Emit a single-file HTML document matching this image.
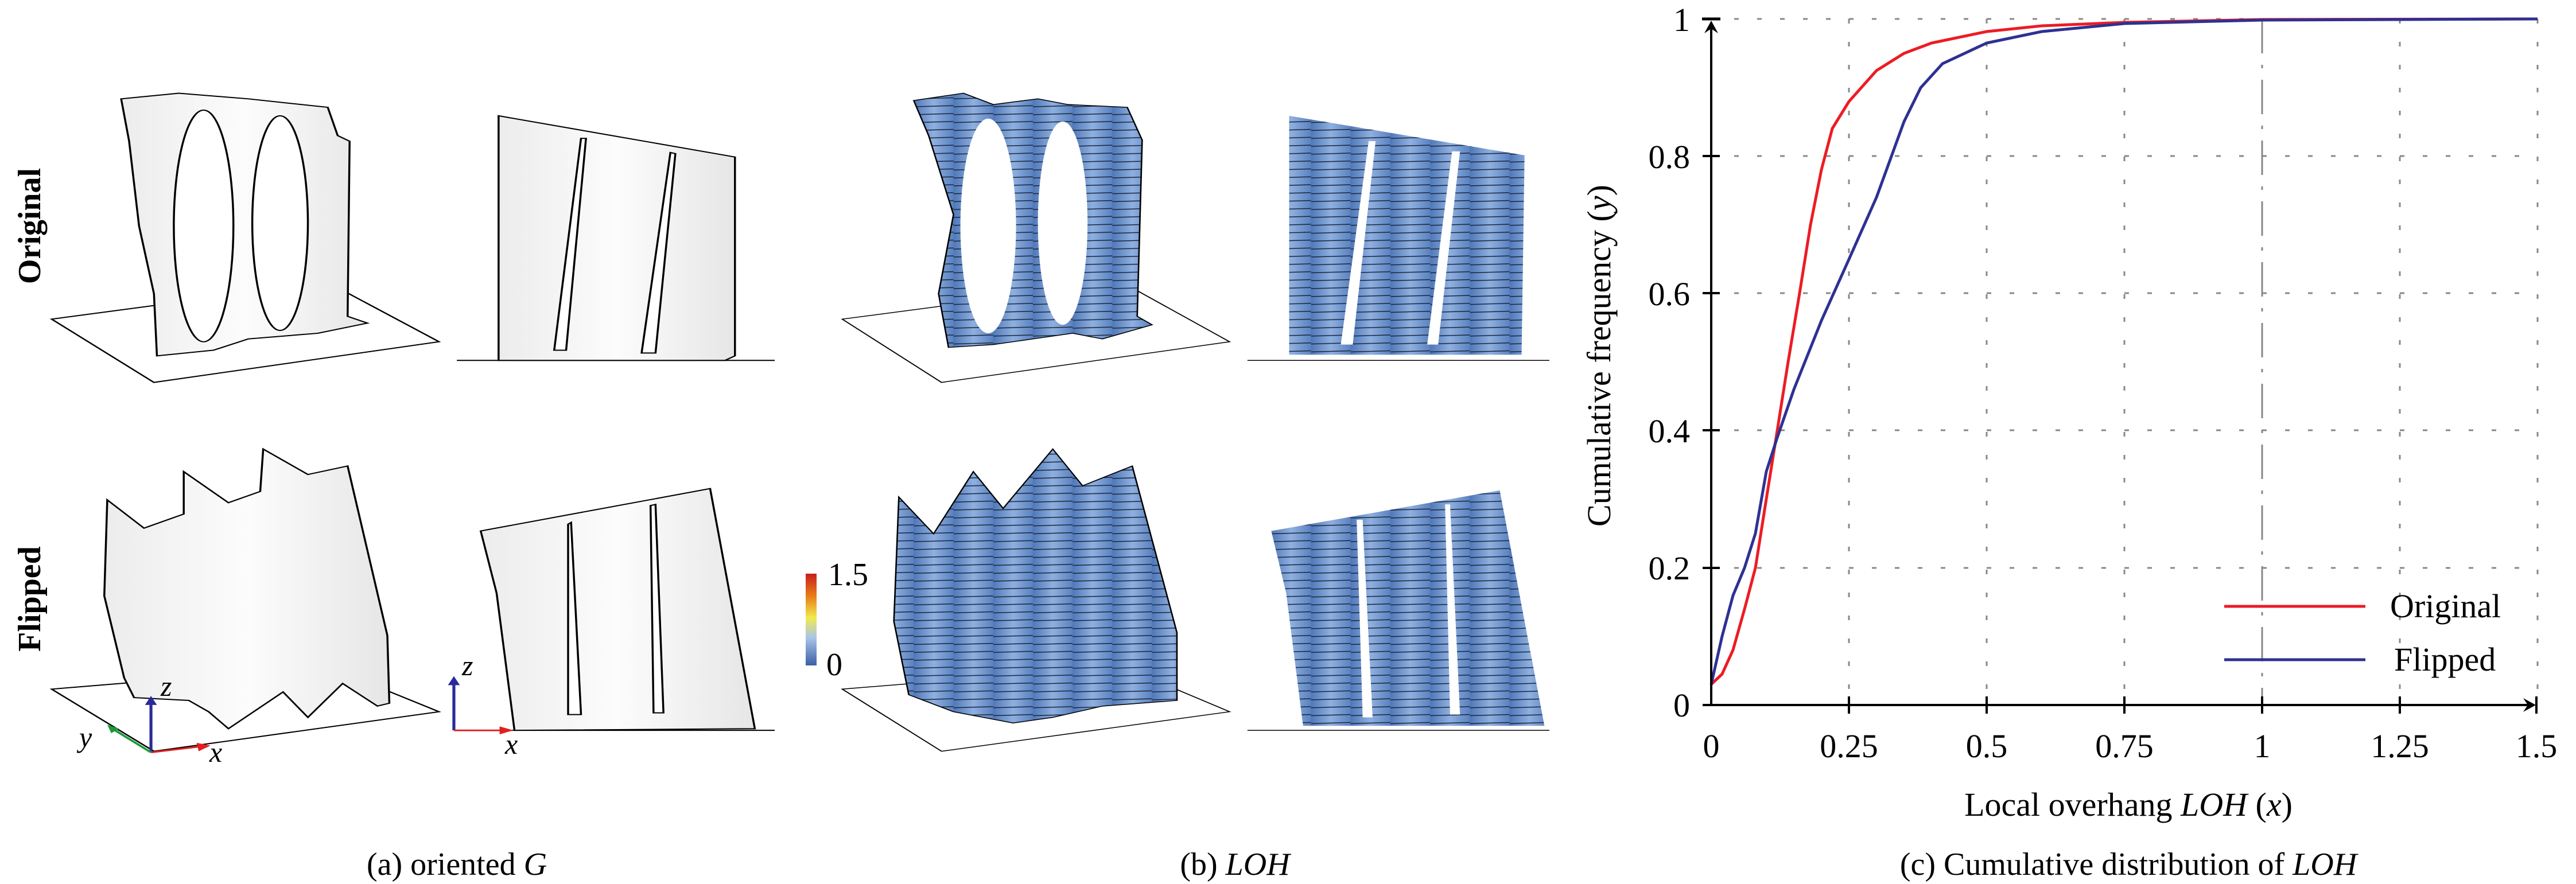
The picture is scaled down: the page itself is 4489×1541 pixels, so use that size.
<!DOCTYPE html>
<html><head><meta charset="utf-8"><style>
html,body{margin:0;padding:0;background:#fff;}
body{width:4489px;height:1541px;position:relative;overflow:hidden;font-family:"Liberation Serif",serif;}
svg{position:absolute;left:0;top:0;}
</style></head><body>
<svg width="2700" height="1541" viewBox="0 0 1560 1565" preserveAspectRatio="none">
<defs>
<linearGradient id="gw" x1="0" x2="1"><stop offset="0" stop-color="#ececec"/><stop offset="0.5" stop-color="#fcfcfc"/><stop offset="1" stop-color="#e6e6e6"/></linearGradient>
<linearGradient id="gb" x1="0" x2="1"><stop offset="0" stop-color="#4f78b8"/><stop offset="0.5" stop-color="#8fb0e0"/><stop offset="1" stop-color="#5a82c0"/></linearGradient>
<pattern id="st" width="40" height="14" patternUnits="userSpaceOnUse"><rect width="40" height="14" fill="url(#gb)"/><line x1="0" y1="7" x2="40" y2="5" stroke="#1a2236" stroke-width="1.6"/></pattern>
</defs>
<g stroke="#000" stroke-width="2" fill="none">
<polygon points="52,565 330,500 442,605 155,677"/>
<path d="M122,175 L180,165 L250,175 L330,190 L340,240 L352,250 L350,560 L370,572 L320,590 L250,600 L215,620 L158,630 L155,520 L140,400 L130,250 Z" fill="url(#gw)"/>
<ellipse cx="205" cy="400" rx="30" ry="205" fill="#fff"/>
<ellipse cx="282" cy="395" rx="28" ry="190" fill="#fff"/>
<line x1="460" y1="638" x2="780" y2="638"/>
<path d="M502,205 L740,278 L740,630 L730,638 L502,638 Z" fill="url(#gw)"/>
<path d="M590,245 L570,620 L558,620 L585,245 Z" fill="#fff"/>
<path d="M680,272 L660,625 L646,625 L675,270 Z" fill="#fff"/>
<polygon points="52,1220 330,1180 442,1260 155,1330"/>
<path d="M108,885 L145,935 L185,910 L185,835 L230,890 L262,870 L265,795 L310,840 L350,825 L390,1125 L392,1245 L380,1250 L345,1210 L310,1270 L285,1225 L230,1290 L210,1260 L190,1240 L135,1235 L125,1200 L105,1055 Z" fill="url(#gw)"/>
<line x1="460" y1="1293" x2="780" y2="1293"/>
<path d="M484,940 L715,865 L760,1290 L518,1293 L500,1050 Z" fill="url(#gw)"/>
<path d="M575,925 L585,1265 L572,1265 L572,928 Z" fill="#fff"/>
<path d="M660,893 L668,1262 L658,1262 L655,895 Z" fill="#fff"/>
<polygon points="848,565 1130,500 1238,605 948,677" stroke-width="1.5"/>
<path d="M920,178 L970,165 L1000,185 L1045,175 L1075,185 L1135,190 L1150,248 L1145,560 L1160,575 L1110,600 L1080,590 L1040,600 L1000,610 L955,615 L945,520 L960,380 L935,240 Z" fill="url(#st)" stroke-width="1.5"/>
<ellipse cx="995" cy="400" rx="28" ry="190" fill="#fff" stroke="none"/>
<ellipse cx="1070" cy="395" rx="25" ry="180" fill="#fff" stroke="none"/>
<line x1="1256" y1="638" x2="1568" y2="638" stroke-width="1.5"/>
<path d="M1298,205 L1535,275 L1532,628 L1298,628 Z" fill="url(#st)" stroke="none"/>
<path d="M1385,250 L1362,610 L1350,610 L1378,250 Z" fill="#fff" stroke="none"/>
<path d="M1470,268 L1448,610 L1437,610 L1462,268 Z" fill="#fff" stroke="none"/>
<polygon points="848,1220 1130,1180 1238,1260 948,1330" stroke-width="1.5"/>
<path d="M905,880 L940,945 L980,835 L1010,900 L1060,795 L1090,860 L1140,825 L1185,1120 L1185,1240 L1110,1250 L1060,1270 L1020,1280 L960,1260 L915,1230 L900,1100 Z" fill="url(#st)" stroke-width="1.5"/>
<line x1="1256" y1="1293" x2="1568" y2="1293" stroke-width="1.5"/>
<path d="M1280,940 L1510,868 L1555,1285 L1312,1285 L1295,1050 Z" fill="url(#st)" stroke="none"/>
<path d="M1372,920 L1382,1270 L1372,1270 L1366,920 Z" fill="#fff" stroke="none"/>
<path d="M1460,893 L1470,1265 L1460,1265 L1455,893 Z" fill="#fff" stroke="none"/>
</g>
<g stroke-width="3">
<line x1="152" y1="1332" x2="152" y2="1245" stroke="#2a2a9a"/><polygon points="146,1248 158,1248 152,1232" fill="#2a2a9a"/>
<line x1="152" y1="1332" x2="200" y2="1322" stroke="#e02020"/><polygon points="198,1315 200,1330 212,1320" fill="#e02020"/>
<line x1="152" y1="1332" x2="115" y2="1292" stroke="#1a9a3a"/><polygon points="108,1283 120,1290 112,1298" fill="#1a9a3a"/>
<line x1="457" y1="1293" x2="457" y2="1210" stroke="#2a2a9a"/><polygon points="451,1213 463,1213 457,1197" fill="#2a2a9a"/>
<line x1="457" y1="1293" x2="505" y2="1293" stroke="#e02020"/><polygon points="503,1286 503,1300 517,1293" fill="#e02020"/>
</g>
</svg>
<div style="position:absolute;left:52px;top:394px;transform:translate(-50%,-50%) rotate(-90deg);font-size:56px;font-weight:bold;white-space:nowrap;">Original</div>
<div style="position:absolute;left:52px;top:1044px;transform:translate(-50%,-50%) rotate(-90deg);font-size:56px;font-weight:bold;white-space:nowrap;">Flipped</div>
<div style="position:absolute;left:796px;top:1507px;transform:translate(-50%,-50%);font-size:56px;white-space:nowrap;">(a) oriented <i>G</i></div>
<div style="position:absolute;left:2152px;top:1507px;transform:translate(-50%,-50%);font-size:56px;white-space:nowrap;">(b) <i>LOH</i></div>
<div style="position:absolute;left:3709px;top:1507px;transform:translate(-50%,-50%);font-size:56px;white-space:nowrap;">(c) Cumulative distribution of <i>LOH</i></div>
<svg width="4489" height="1541" viewBox="0 0 4489 1541">
<defs><linearGradient id="cb" x1="0" y1="1" x2="0" y2="0"><stop offset="0" stop-color="#3b5fa8"/><stop offset="0.3" stop-color="#a8c4e8"/><stop offset="0.52" stop-color="#f2ea50"/><stop offset="0.75" stop-color="#e88018"/><stop offset="1" stop-color="#c81e1e"/></linearGradient></defs>
<rect x="1404" y="1000" width="19" height="160" fill="url(#cb)"/>
<g font-family="Liberation Serif" font-size="56">
<text x="1443" y="1020">1.5</text><text x="1440" y="1177">0</text>
</g>
<g font-family="Liberation Serif" font-style="italic" font-size="50">
<text x="280" y="1213">z</text><text x="365" y="1328">x</text><text x="138" y="1302">y</text>
<text x="805" y="1177">z</text><text x="880" y="1314">x</text>
</g>
<g stroke="#888" stroke-width="3" stroke-dasharray="8,32">
<line x1="3222" y1="33" x2="3222" y2="1229"/><line x1="3462" y1="33" x2="3462" y2="1229"/>
<line x1="3702" y1="33" x2="3702" y2="1229"/><line x1="4182" y1="33" x2="4182" y2="1229"/><line x1="4422" y1="33" x2="4422" y2="1229"/>
<line x1="2982" y1="33" x2="4422" y2="33"/><line x1="2982" y1="272" x2="4422" y2="272"/><line x1="2982" y1="511" x2="4422" y2="511"/>
<line x1="2982" y1="750" x2="4422" y2="750"/><line x1="2982" y1="990" x2="4422" y2="990"/>
</g>
<line x1="3942" y1="33" x2="3942" y2="1229" stroke="#888" stroke-width="3" stroke-dasharray="60,20,6,20"/>
<g fill="none" stroke-width="5" stroke-linejoin="round">
<polyline stroke="#ec1c24" points="2982,1193 3001,1175 3020,1133 3040,1062 3059,990 3078,870 3097,751 3116,631 3136,511 3155,392 3174,296 3193,224 3222,177 3270,123 3318,93 3366,75 3462,55 3558,45 3702,39 3942,34 4422,33"/>
<polyline stroke="#2e3192" points="2982,1193 3001,1109 3020,1038 3040,990 3059,930 3078,822 3097,763 3126,679 3174,559 3222,452 3270,344 3318,212 3347,153 3385,111 3462,75 3558,55 3702,41 3942,35 4422,33"/>
</g>
<g stroke="#000" stroke-width="4">
<line x1="2982" y1="1229" x2="2982" y2="40"/>
<line x1="2966" y1="33" x2="2998" y2="33" stroke-width="5"/>
<line x1="2967" y1="1229" x2="4415" y2="1229"/>
<line x1="4420" y1="1214" x2="4420" y2="1244"/>
<line x1="3222" y1="1214" x2="3222" y2="1244"/><line x1="3462" y1="1214" x2="3462" y2="1244"/><line x1="3702" y1="1214" x2="3702" y2="1244"/>
<line x1="3942" y1="1214" x2="3942" y2="1244"/><line x1="4182" y1="1214" x2="4182" y2="1244"/>
<line x1="2967" y1="272" x2="2997" y2="272"/><line x1="2967" y1="511" x2="2997" y2="511"/><line x1="2967" y1="750" x2="2997" y2="750"/><line x1="2967" y1="990" x2="2997" y2="990"/>
</g>
<polygon points="2982,36 2970,58 2982,50 2994,58" fill="#000"/>
<polygon points="4419,1229 4397,1217 4405,1229 4397,1241" fill="#000"/>
<g font-family="Liberation Serif" font-size="58" text-anchor="middle">
<text x="2982" y="1320">0</text><text x="3222" y="1320">0.25</text><text x="3462" y="1320">0.5</text>
<text x="3702" y="1320">0.75</text><text x="3942" y="1320">1</text><text x="4182" y="1320">1.25</text><text x="4420" y="1320">1.5</text>
</g>
<g font-family="Liberation Serif" font-size="58" text-anchor="end">
<text x="2945" y="1249">0</text><text x="2945" y="1010">0.2</text><text x="2945" y="771">0.4</text>
<text x="2945" y="532">0.6</text><text x="2945" y="293">0.8</text><text x="2945" y="54">1</text>
</g>
<text x="3709" y="1422" font-family="Liberation Serif" font-size="58" text-anchor="middle">Local overhang <tspan font-style="italic">LOH</tspan> (<tspan font-style="italic">x</tspan>)</text>
<text transform="translate(2806,620) rotate(-90)" font-family="Liberation Serif" font-size="58" text-anchor="middle">Cumulative frequency (<tspan font-style="italic">y</tspan>)</text>
<line x1="3876" y1="1057" x2="4122" y2="1057" stroke="#ec1c24" stroke-width="5"/>
<line x1="3876" y1="1150" x2="4122" y2="1150" stroke="#2e3192" stroke-width="5"/>
<text x="4165" y="1076" font-family="Liberation Serif" font-size="58">Original</text>
<text x="4172" y="1169" font-family="Liberation Serif" font-size="58">Flipped</text>
</svg>
</body></html>
